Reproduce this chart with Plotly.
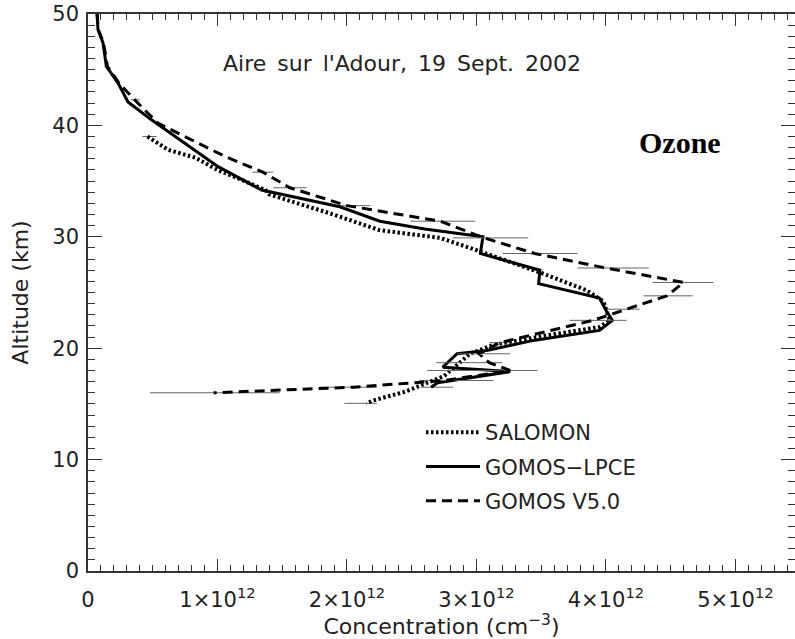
import numpy as np
import plotly.graph_objects as go

E12 = 1e12

# ---------------- data (concentration in units of 1e12 cm^-3, altitude in km) ----------------
salomon_conc = [0.46, 0.62, 0.83, 1.00, 1.19, 1.37, 1.40, 1.87, 2.25, 2.72, 3.00, 3.20, 3.49,
                3.85, 3.98, 4.03, 3.95, 3.57, 3.13, 2.95, 2.85, 2.75, 2.60, 2.45, 2.20, 2.15]
salomon_alt = [39.0, 37.8, 37.1, 36.0, 35.1, 34.2, 33.8, 32.1, 30.6, 29.9, 28.8, 28.0, 26.8,
               25.2, 24.2, 22.5, 21.9, 21.2, 20.3, 19.5, 18.5, 17.5, 16.8, 16.1, 15.3, 15.05]
salomon_err_minus = [0.04] + [0] * 24 + [0.17]
salomon_err_plus = [0.07] + [0] * 24 + [0.08]

lpce_conc = [0.07, 0.077, 0.116, 0.142, 0.232, 0.309, 0.49, 0.747, 1.005, 1.34, 1.945, 2.254,
             2.60, 3.05, 3.03, 3.49, 3.48, 3.95, 4.00, 4.05, 3.95, 3.44, 3.08, 2.85, 2.74, 3.26,
             2.70, 2.65]
lpce_alt = [50.0, 48.6, 47.4, 45.3, 43.8, 42.1, 40.5, 38.4, 36.3, 34.2, 32.7, 31.4,
            30.7, 30.0, 28.5, 27.0, 25.8, 24.5, 23.4, 22.5, 21.6, 20.7, 19.8, 19.5, 18.3, 17.9,
            16.9, 16.5]
lpce_err_minus = [0] * 27 + [0.08]
lpce_err_plus = [0] * 27 + [0.17]

v50_conc = [0.07, 0.08, 0.12, 0.15, 0.24, 0.36, 0.54, 0.75, 1.06, 1.35, 1.56, 2.00, 2.72,
            3.06, 3.45, 4.00, 4.60, 4.47, 4.15, 3.90, 3.18, 3.02, 3.10, 3.26, 2.75, 2.05, 0.97]
v50_alt = [50.0, 48.6, 47.4, 45.3, 43.8, 42.3, 40.2, 39.0, 37.2, 35.8, 34.4, 32.8, 31.4,
           29.9, 28.5, 27.2, 25.9, 24.7, 23.5, 22.5, 20.5, 19.5, 18.7, 18.0, 17.1, 16.5, 16.0]
v50_err_minus = [0, 0, 0, 0, 0, 0.03, 0, 0, 0, 0.08, 0.13, 0.05, 0.23,
                 0.24, 0.25, 0.22, 0.24, 0.18, 0.14, 0.18, 0.08, 0.17, 0.41, 0.64, 0.19, 0.26, 0.49]
v50_err_plus = [0, 0, 0, 0, 0, 0.04, 0, 0, 0, 0.08, 0.13, 0.18, 0.27,
                0.34, 0.33, 0.33, 0.23, 0.20, 0.11, 0.26, 0.08, 0.24, 0.10, 0.21, 0.38, 0.18, 0.51]

x_tickvals = [0, 1, 2, 3, 4, 5]
x_ticktext = ["0", "1×10<sup>12</sup>", "2×10<sup>12</sup>", "3×10<sup>12</sup>",
              "4×10<sup>12</sup>", "5×10<sup>12</sup>"]
y_tickvals = [0, 10, 20, 30, 40, 50]

FONT = "DejaVu Sans"
ERRC = "#666666"


def sc(a):
    return np.array(a, dtype=float) * E12


fig = go.Figure()

fig.add_trace(go.Scatter(
    x=sc(salomon_conc), y=salomon_alt, mode="lines", name="SALOMON",
    line=dict(color="black", width=4, dash="2.5px,2.5px"),
    error_x=dict(type="data", symmetric=False, array=sc(salomon_err_plus),
                 arrayminus=sc(salomon_err_minus), color=ERRC, thickness=1, width=0),
    legendgroup="a",
))
fig.add_trace(go.Scatter(
    x=sc(lpce_conc), y=lpce_alt, mode="lines", name="GOMOS−LPCE",
    line=dict(color="black", width=3),
    error_x=dict(type="data", symmetric=False, array=sc(lpce_err_plus),
                 arrayminus=sc(lpce_err_minus), color=ERRC, thickness=1, width=0),
    legendgroup="b",
))
fig.add_trace(go.Scatter(
    x=sc(v50_conc), y=v50_alt, mode="lines", name="GOMOS V5.0",
    line=dict(color="black", width=3, dash="10px,6px"),
    error_x=dict(type="data", symmetric=False, array=sc(v50_err_plus),
                 arrayminus=sc(v50_err_minus), color=ERRC, thickness=1, width=0),
    legendgroup="c",
))

axis_common = dict(
    showline=True, linecolor="#333333", linewidth=1.5, mirror="allticks",
    ticks="inside", tickcolor="#333333", tickwidth=1.3,
    showgrid=False, zeroline=False, automargin=False, ticklabeloverflow="allow",
    tickfont=dict(family=FONT, size=21, color="#222222"),
)

fig.update_xaxes(
    range=[0, 5.46 * E12], tickmode="array", tickvals=sc(x_tickvals), ticktext=x_ticktext,
    ticklen=12, ticklabelstandoff=9,
    minor=dict(ticks="inside", ticklen=6, dtick=0.1 * E12, tickcolor="#333333", tickwidth=1),
    title=dict(text="Concentration (cm<sup>−3</sup>)", font=dict(family=FONT, size=22, color="#222222"),
               standoff=5),
    **axis_common,
)
fig.update_yaxes(
    range=[0, 50], tickmode="array", tickvals=y_tickvals,
    ticklen=14, ticklabelstandoff=3,
    minor=dict(ticks="inside", ticklen=7, dtick=1, tickcolor="#333333", tickwidth=1),
    title=dict(text="Altitude (km)", font=dict(family=FONT, size=22, color="#222222"),
               standoff=18),
    **axis_common,
)

fig.add_annotation(xref="paper", yref="paper", x=0.444, y=0.912, showarrow=False,
                   xanchor="center", yanchor="middle",
                   text="Aire\u2002sur\u2002l'Adour,\u200219\u2002Sept.\u20022002",
                   font=dict(family=FONT, size=22, color="#222222"))
fig.add_annotation(xref="paper", yref="paper", x=0.837, y=0.770, showarrow=False,
                   xanchor="center", yanchor="middle",
                   text="<b>Ozone</b>",
                   font=dict(family="Liberation Serif", size=30, color="black"))

fig.update_layout(
    width=795, height=639,
    margin=dict(l=88, r=0, t=14, b=68),
    paper_bgcolor="white", plot_bgcolor="white",
    showlegend=True,
    legend=dict(x=0.471, y=0.2854, xanchor="left", yanchor="top",
                bgcolor="rgba(0,0,0,0)", font=dict(family=FONT, size=21, color="#222222"),
                itemwidth=54, tracegroupgap=4),
)

# remove the browser's default 8px body margin so the figure fills the window exactly
fig.write_html("out.html", config={"displayModeBar": False},
               post_script="document.body.style.margin='0';document.body.style.overflow='hidden';")
